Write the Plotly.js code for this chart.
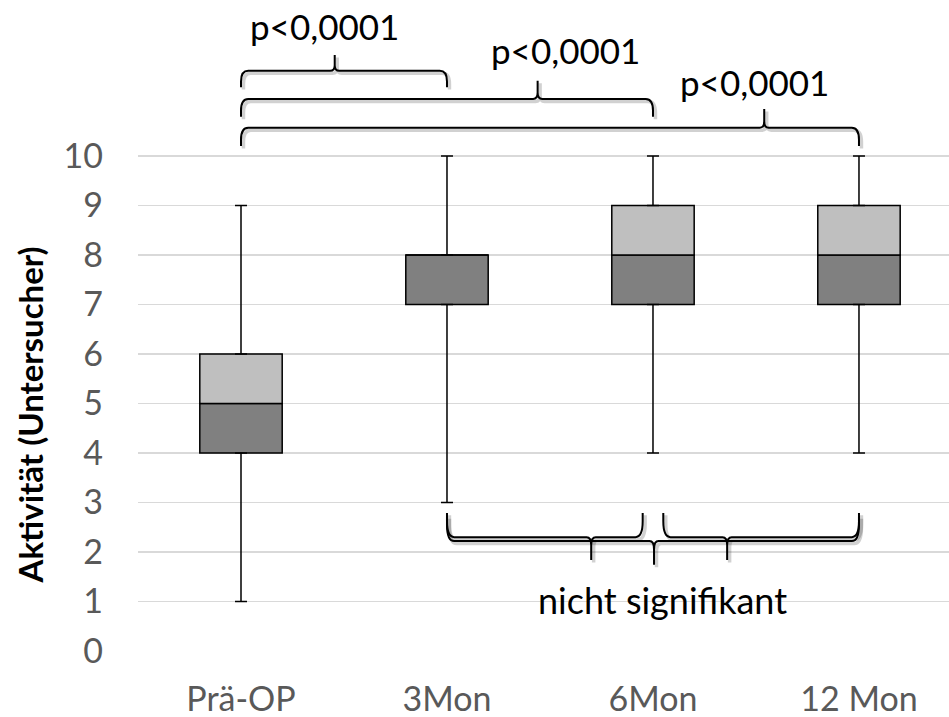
<!DOCTYPE html>
<html>
<head>
<meta charset="utf-8">
<script src="https://cdn.plot.ly/plotly-3.0.1.min.js"></script>
<style>html,body{margin:0;padding:0;background:#fff;}#chart{width:949px;height:717px;}</style>
</head>
<body>
<div id="chart"></div>
<script>
// ---- data ----
const categories = ['Prä-OP', '3Mon', '6Mon', '12 Mon'];
const minVals    = [1, 3, 4, 4];
const q1Vals     = [4, 7, 7, 7];
const medianVals = [5, 8, 8, 8];
const q3Vals     = [6, 8, 9, 9];
const maxVals    = [9, 10, 10, 10];
const yTickVals  = [0, 1, 2, 3, 4, 5, 6, 7, 8, 9, 10];
const yTitle     = 'Aktivität (Untersucher)';
const pLabel     = 'p<0,0001';
const nsLabel    = 'nicht signifikant';

const xIdx = categories.map((c, i) => i);
const FONT = 'Lato, "Open Sans", sans-serif';

const lowerBox = {
  type: 'bar', x: xIdx, base: q1Vals,
  y: medianVals.map((m, i) => m - q1Vals[i]),
  width: 0.4,
  marker: {color: '#808080', line: {color: '#000', width: 1.5}},
  hoverinfo: 'skip', showlegend: false
};
const upperBox = {
  type: 'bar', x: xIdx, base: medianVals,
  y: q3Vals.map((q, i) => q - medianVals[i]),
  width: 0.4,
  marker: {color: '#bfbfbf', line: {color: '#000', width: 1.5}},
  hoverinfo: 'skip', showlegend: false
};
const upperWhisker = {
  type: 'scatter', mode: 'markers', x: xIdx, y: q3Vals,
  marker: {size: 1, color: 'rgba(0,0,0,0)'},
  error_y: {type: 'data', symmetric: false,
    array: maxVals.map((m, i) => m - q3Vals[i]),
    arrayminus: q3Vals.map(() => 0),
    width: 6, thickness: 1.5, color: '#000'},
  hoverinfo: 'skip', showlegend: false
};
const lowerWhisker = {
  type: 'scatter', mode: 'markers', x: xIdx, y: q1Vals,
  marker: {size: 1, color: 'rgba(0,0,0,0)'},
  error_y: {type: 'data', symmetric: false,
    array: q1Vals.map(() => 0),
    arrayminus: q1Vals.map((q, i) => q - minVals[i]),
    width: 6, thickness: 1.5, color: '#000'},
  hoverinfo: 'skip', showlegend: false
};

// ---- braces (curly brackets) ----
function bracePath(x0, x1, xt, yE, yL, yT) {
  const rx = 0.035, rt = 0.022;
  const yEm = yE + 0.35 * (yL - yE);
  const yTm = yL + 0.35 * (yT - yL);
  return `M${x0},${yE} L${x0},${yEm} Q${x0},${yL} ${x0 + rx},${yL} ` +
         `L${xt - rt},${yL} Q${xt},${yL} ${xt},${yTm} L${xt},${yT} ` +
         `L${xt},${yTm} Q${xt},${yL} ${xt + rt},${yL} ` +
         `L${x1 - rx},${yL} Q${x1},${yL} ${x1},${yEm} L${x1},${yE}`;
}
const braces = [
  // top: Prä-OP vs 3Mon / 6Mon / 12 Mon
  [0, 1, 0.455, 11.39, 11.72, 12.04],
  [0, 2, 1.44, 10.79, 11.15, 11.52],
  [0, 3, 2.54, 10.20, 10.57, 10.95],
  // bottom: nicht signifikant
  [1, 1.95, 1.70, 2.79, 2.30, 1.84],
  [2.05, 3, 2.36, 2.79, 2.30, 1.84],
  [1.0, 3.0, 2.005, 2.72, 2.22, 1.74]
];
const shapes = [];
braces.forEach(b => {
  const dx = 0.012, dy = -0.05;
  shapes.push({type: 'path', xref: 'x', yref: 'y',
    path: bracePath(b[0] + dx, b[1] + dx, b[2] + dx, b[3] + dy, b[4] + dy, b[5] + dy),
    line: {color: 'rgba(0,0,0,0.18)', width: 3.5}});
});
braces.forEach(b => {
  shapes.push({type: 'path', xref: 'x', yref: 'y',
    path: bracePath(b[0], b[1], b[2], b[3], b[4], b[5]),
    line: {color: '#000', width: 2}});
});

const pFont = {family: FONT, size: 35, color: '#000'};
const annotations = [
  {x: 0.405, y: 12.62, text: pLabel, font: pFont},
  {x: 1.575, y: 12.15, text: pLabel, font: pFont},
  {x: 2.495, y: 11.5, text: pLabel, font: pFont},
  {x: 2.046, y: 1.03, text: nsLabel, font: {family: FONT, size: 36, color: '#000'}}
].map(a => Object.assign({xref: 'x', yref: 'y', showarrow: false,
  xanchor: 'center', yanchor: 'middle'}, a));
// y-axis title (placed as rotated text to match the reference position)
annotations.push({xref: 'paper', yref: 'y', x: -0.133, y: 4.76, showarrow: false,
  xanchor: 'center', yanchor: 'middle', textangle: -90,
  text: '<b>' + yTitle + '</b>', font: {family: FONT, size: 33, color: '#000'}});

const layout = {
  width: 949, height: 717,
  margin: {l: 138, r: 0, t: 0, b: 66},
  paper_bgcolor: '#fff', plot_bgcolor: '#fff',
  barmode: 'overlay',
  showlegend: false,
  xaxis: {
    type: 'linear', range: [-0.5, 3.437],
    tickvals: xIdx, ticktext: categories,
    showgrid: false, zeroline: false, showline: false,
    ticks: '', ticklabelstandoff: 25,
    tickfont: {family: FONT, size: 34, color: '#595959'}
  },
  yaxis: {
    range: [0, 13.15], tickvals: yTickVals,
    showgrid: true, gridcolor: '#d9d9d9', gridwidth: 1.5,
    zeroline: false, showline: false, ticks: '',
    ticklabelstandoff: 34,
    tickfont: {family: FONT, size: 34, color: '#595959'}
  },
  shapes: shapes,
  annotations: annotations
};

Plotly.newPlot('chart', [lowerBox, upperBox, lowerWhisker, upperWhisker], layout,
  {staticPlot: true, displayModeBar: false});
</script>
</body>
</html>
